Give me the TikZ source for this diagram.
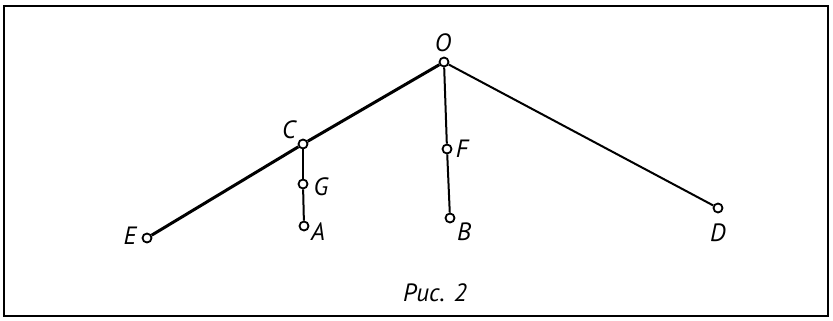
\documentclass[tikz,border=0pt]{standalone}
\usepackage{fontspec}
\setmainfont{PT Sans}
\begin{document}
\begin{tikzpicture}[x=1pt,y=-1pt,
  vtx/.style={circle,draw,fill=white,line width=1.8pt,inner sep=0pt,minimum size=9pt},
  lbl/.style={font=\fontsize{25}{29}\selectfont\itshape,inner sep=0pt},
  edge/.style={line width=2pt},
  thick edge/.style={line width=3pt}]
\useasboundingbox (0,0) rectangle (833,321);
\draw[line width=2pt] (4,6) rectangle (828,316);
\node[vtx] (O) at (444,62) {};
\node[vtx] (C) at (303,144) {};
\node[vtx] (G) at (303,184) {};
\node[vtx] (A) at (304,226) {};
\node[vtx] (E) at (147,238) {};
\node[vtx] (F) at (447,149) {};
\node[vtx] (B) at (450,218) {};
\node[vtx] (D) at (718,208) {};
\draw[thick edge] (O) -- (C);
\draw[thick edge] (C) -- (E);
\draw[edge] (O) -- (D);
\draw[edge] (O) -- (F);
\draw[edge] (F) -- (B);
\draw[edge] (C) -- (G);
\draw[edge] (G) -- (A);
\node[lbl] (lO) at (443,43) {O};
\node[lbl] (lC) at (289,130) {C};
\node[lbl] (lG) at (321,187) {G};
\node[lbl] (lA) at (318,232) {A};
\node[lbl] (lE) at (130,236) {E};
\node[lbl] (lF) at (462,149) {F};
\node[lbl] (lB) at (464,232) {B};
\node[lbl] (lD) at (718,233) {D};
\node[lbl] (cap) at (435,293) {Рис. 2};
\end{tikzpicture}
\end{document}
